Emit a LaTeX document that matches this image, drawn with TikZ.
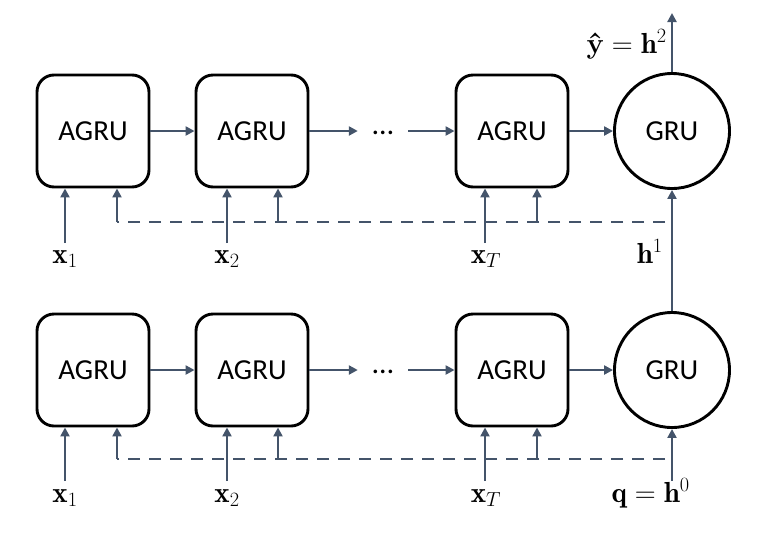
\RequirePackage{fix-cm}
\documentclass[tikz,border=0pt]{standalone}
\usepackage{amsmath}
\usepackage{fontspec}
\newfontfamily\boxfont{Carlito}
\usetikzlibrary{arrows.meta}
\definecolor{arr}{HTML}{44546A}
\begin{document}
\begin{tikzpicture}[x=1pt,y=-1pt,
  agru/.style={draw=black,line width=2.9pt,rounded corners=17pt,minimum width=112pt,minimum height=112pt,inner sep=0pt,font=\boxfont\fontsize{29}{32}\selectfont},
  grucirc/.style={draw=black,line width=2.9pt,circle,minimum size=115pt,inner sep=0pt,font=\boxfont\fontsize{29}{32}\selectfont},
  conn/.style={draw=arr,line width=2.4pt,-{Triangle[length=9pt,width=9pt]}},
  dconn/.style={draw=arr,line width=2.4pt,dash pattern=on 12pt off 9pt},
  dtick/.style={draw=arr,line width=2.4pt,-{Triangle[length=9pt,width=9pt]}},
  lab/.style={inner sep=0pt,font=\fontsize{29}{32}\selectfont},
  dotsnode/.style={inner sep=0pt,minimum width=50pt,minimum height=20pt},
  dotstext/.style={inner sep=0pt,font=\boxfont\fontsize{30}{32}\selectfont},
]
\useasboundingbox (0,0) rectangle (761,542);

% ---------- top row ----------
\node[agru] (t1) at (93,131) {AGRU};
\node[agru] (t2) at (252,131) {AGRU};
\node[agru] (t3) at (512,131) {AGRU};
\node[grucirc] (tg) at (672,131) {GRU};
\node[dotsnode] (tdots) at (383,131) {};
\node[dotstext,anchor=base] (tdotsT) at (383,134) {…};

\draw[conn] (t1) -- (t2);
\draw[conn] (t2.east) -- (tdots.west);
\draw[conn] (tdots.east) -- (t3.west);
\draw[conn] (t3) -- (tg);

\coordinate (tout) at (672,13);
\draw[conn] (tg.north) -- (tout);
\node[lab,anchor=base east] (ylab) at (667,53) {$\textbf{ŷ}=\mathbf{h}^2$};

% inputs
\coordinate (ti1) at (65,243);
\coordinate (ti2) at (227,243);
\coordinate (ti3) at (485,243);
\draw[conn] (ti1) -- (t1.south -| ti1);
\draw[conn] (ti2) -- (t2.south -| ti2);
\draw[conn] (ti3) -- (t3.south -| ti3);
\node[lab,anchor=base] (tx1) at (65,263) {$\mathbf{x}_1$};
\node[lab,anchor=base] (tx2) at (227,263) {$\mathbf{x}_2$};
\node[lab,anchor=base] (tx3) at (486,263) {$\mathbf{x}_T$};

% dashed attention line
\coordinate (td1) at (117,222);
\coordinate (td2) at (278,222);
\coordinate (td3) at (537,222);
\coordinate (tdR) at (665,222);
\draw[dconn] (tdR) -- (td1);
\draw[dtick] (td1) -- (t1.south -| td1);
\draw[dtick] (td2) -- (t2.south -| td2);
\draw[dtick] (td3) -- (t3.south -| td3);

% ---------- bottom row ----------
\node[agru] (b1) at (93,370) {AGRU};
\node[agru] (b2) at (252,370) {AGRU};
\node[agru] (b3) at (512,370) {AGRU};
\node[grucirc] (bg) at (672,370) {GRU};
\node[dotsnode] (bdots) at (383,370) {};
\node[dotstext,anchor=base] (bdotsT) at (383,373) {…};

\draw[conn] (b1) -- (b2);
\draw[conn] (b2.east) -- (bdots.west);
\draw[conn] (bdots.east) -- (b3.west);
\draw[conn] (b3) -- (bg);

% h1 between GRUs
\draw[conn] (bg.north) -- (tg.south);
\node[lab,anchor=base east] (h1lab) at (663,263) {$\mathbf{h}^1$};

% inputs
\coordinate (bi1) at (65,481);
\coordinate (bi2) at (227,481);
\coordinate (bi3) at (485,481);
\coordinate (bq) at (672,481);
\draw[conn] (bi1) -- (b1.south -| bi1);
\draw[conn] (bi2) -- (b2.south -| bi2);
\draw[conn] (bi3) -- (b3.south -| bi3);
\draw[conn] (bq) -- (bg.south);
\node[lab,anchor=base] (bx1) at (65,502) {$\mathbf{x}_1$};
\node[lab,anchor=base] (bx2) at (227,502) {$\mathbf{x}_2$};
\node[lab,anchor=base] (bx3) at (486,502) {$\mathbf{x}_T$};
\node[lab,anchor=base east] (qlab) at (690,502) {$\mathbf{q}=\mathbf{h}^0$};

% dashed attention line
\coordinate (bd1) at (117,459);
\coordinate (bd2) at (278,459);
\coordinate (bd3) at (537,459);
\coordinate (bdR) at (665,459);
\draw[dconn] (bdR) -- (bd1);
\draw[dtick] (bd1) -- (b1.south -| bd1);
\draw[dtick] (bd2) -- (b2.south -| bd2);
\draw[dtick] (bd3) -- (b3.south -| bd3);
\end{tikzpicture}
\end{document}
